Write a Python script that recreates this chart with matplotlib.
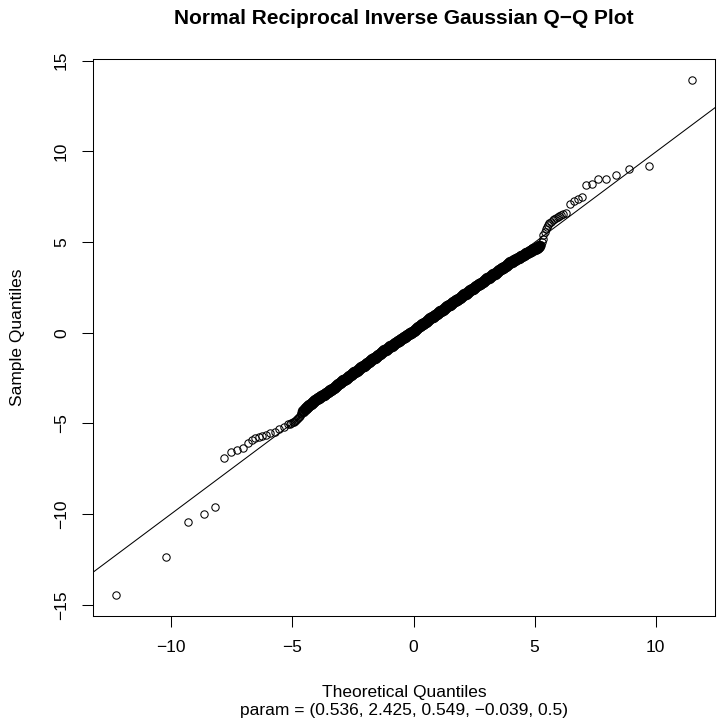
import matplotlib
matplotlib.use('Agg')
import matplotlib.pyplot as plt
import numpy as np

plt.rcParams['font.family'] = ['Liberation Sans', 'DejaVu Sans']

# lower tail, read point by point
low_theo = [-12.27, -10.23, -9.30, -8.67, -8.20, -7.84, -7.52, -7.27, -7.02, -6.82,
            -6.65, -6.53, -6.39, -6.24, -6.07, -5.91, -5.73, -5.55, -5.36, -5.17,
            -5.10, -5.04, -4.98, -4.93, -4.88, -4.84, -4.80, -4.76, -4.72, -4.69,
            -4.66, -4.63, -4.60]
low_samp = [-14.45, -12.36, -10.43, -9.97, -9.62, -6.92, -6.60, -6.47, -6.38, -6.10,
            -5.92, -5.83, -5.73, -5.70, -5.64, -5.55, -5.46, -5.33, -5.18, -5.05,
            -5.01, -4.98, -4.94, -4.90, -4.86, -4.82, -4.78, -4.72, -4.65, -4.58,
            -4.50, -4.42, -4.36]

# dense central band (points overlap into a solid stroke)
mid_theo = [
    -4.55, -4.50, -4.45, -4.40, -4.35, -4.30, -4.25, -4.20, -4.15, -4.10, -4.05, -4.00,
    -3.95, -3.90, -3.85, -3.80, -3.75, -3.70, -3.65, -3.60, -3.55, -3.50,
    -3.45, -3.40, -3.35, -3.30, -3.25, -3.20, -3.15, -3.10, -3.05, -3.00,
    -2.95, -2.90, -2.85, -2.80, -2.75, -2.70, -2.65, -2.60,
    -2.55, -2.50, -2.45, -2.40, -2.35, -2.30, -2.25, -2.20, -2.15, -2.10, -2.05, -2.00,
    -1.95, -1.90, -1.85, -1.80, -1.75, -1.70, -1.65, -1.60, -1.55, -1.50,
    -1.45, -1.40, -1.35, -1.30, -1.25, -1.20, -1.15, -1.10, -1.05, -1.00,
    -0.95, -0.90, -0.85, -0.80, -0.75, -0.70, -0.65, -0.60, -0.55, -0.50,
    -0.45, -0.40, -0.35, -0.30, -0.25, -0.20, -0.15, -0.10, -0.05, 0.00,
    0.05, 0.10, 0.15, 0.20, 0.25, 0.30, 0.35, 0.40, 0.45, 0.50,
    0.55, 0.60, 0.65, 0.70, 0.75, 0.80, 0.85, 0.90, 0.95, 1.00,
    1.05, 1.10, 1.15, 1.20, 1.25, 1.30, 1.35, 1.40, 1.45, 1.50,
    1.55, 1.60, 1.65, 1.70, 1.75, 1.80, 1.85, 1.90, 1.95, 2.00,
    2.05, 2.10, 2.15, 2.20, 2.25, 2.30, 2.35, 2.40, 2.45, 2.50,
    2.55, 2.60, 2.65, 2.70, 2.75, 2.80, 2.85, 2.90, 2.95, 3.00,
    3.05, 3.10, 3.15, 3.20, 3.25, 3.30, 3.35, 3.40, 3.45, 3.50,
    3.55, 3.60, 3.65, 3.70, 3.75, 3.80, 3.85, 3.90, 3.95, 4.00,
    4.05, 4.10, 4.15, 4.20, 4.25, 4.30, 4.35, 4.40, 4.45, 4.50,
    4.55, 4.60, 4.65, 4.70, 4.75, 4.80, 4.85, 4.90, 4.95, 5.00,
    5.05, 5.10, 5.15, 5.20]
mid_samp = [
    -4.30, -4.22, -4.16, -4.10, -4.04, -3.98, -3.93, -3.88, -3.83, -3.77, -3.72, -3.66,
    -3.62, -3.58, -3.54, -3.50, -3.45, -3.41, -3.36, -3.31, -3.27, -3.22,
    -3.18, -3.13, -3.09, -3.04, -2.99, -2.93, -2.88, -2.83, -2.77, -2.72,
    -2.67, -2.63, -2.58, -2.53, -2.48, -2.42, -2.37, -2.33,
    -2.28, -2.24, -2.19, -2.15, -2.10, -2.06, -2.01, -1.96, -1.91, -1.86, -1.81, -1.76,
    -1.71, -1.66, -1.61, -1.57, -1.52, -1.47, -1.42, -1.37, -1.32, -1.27,
    -1.22, -1.18, -1.13, -1.08, -1.03, -0.98, -0.94, -0.89, -0.85, -0.80,
    -0.75, -0.71, -0.66, -0.62, -0.57, -0.53, -0.48, -0.44, -0.39, -0.35,
    -0.30, -0.26, -0.21, -0.17, -0.12, -0.08, -0.03, 0.01, 0.06, 0.12,
    0.17, 0.22, 0.27, 0.31, 0.36, 0.41, 0.46, 0.50, 0.55, 0.60,
    0.65, 0.70, 0.75, 0.79, 0.84, 0.89, 0.94, 0.98, 1.03, 1.08,
    1.13, 1.17, 1.22, 1.27, 1.32, 1.36, 1.41, 1.46, 1.50, 1.55,
    1.60, 1.64, 1.69, 1.74, 1.78, 1.83, 1.88, 1.92, 1.97, 2.02,
    2.07, 2.11, 2.16, 2.20, 2.25, 2.30, 2.34, 2.39, 2.43, 2.48,
    2.53, 2.57, 2.62, 2.67, 2.71, 2.76, 2.81, 2.85, 2.90, 2.95,
    2.99, 3.04, 3.08, 3.13, 3.17, 3.22, 3.26, 3.31, 3.35, 3.40,
    3.45, 3.50, 3.54, 3.59, 3.64, 3.69, 3.73, 3.78, 3.83, 3.88,
    3.92, 3.96, 3.99, 4.03, 4.07, 4.11, 4.14, 4.18, 4.21, 4.25,
    4.29, 4.33, 4.38, 4.42, 4.46, 4.50, 4.53, 4.56, 4.59, 4.62,
    4.66, 4.69, 4.75, 4.80]

# upper tail, read point by point
high_theo = [5.25, 5.29, 5.33, 5.36, 5.41, 5.46, 5.50, 5.55, 5.60, 5.67,
             5.74, 5.81, 5.88, 5.95, 6.02, 6.09, 6.16, 6.29, 6.46, 6.62,
             6.78, 6.94, 7.12, 7.38, 7.63, 7.95, 8.35, 8.91, 9.74, 11.51]
high_samp = [4.82, 5.00, 5.18, 5.37, 5.55, 5.70, 5.82, 5.93, 6.04, 6.12,
             6.19, 6.26, 6.34, 6.39, 6.43, 6.48, 6.52, 6.61, 7.11, 7.25,
             7.38, 7.47, 8.14, 8.21, 8.45, 8.49, 8.71, 9.04, 9.18, 13.95]

# reference line (through the quartiles)
line_intercept = -0.01
line_slope = 0.997

x_ticks = [-10, -5, 0, 5, 10]
y_ticks = [-15, -10, -5, 0, 5, 10, 15]

tail_theo = np.array(low_theo + high_theo)
tail_samp = np.array(low_samp + high_samp)
theo = np.concatenate([tail_theo, mid_theo])
samp = np.concatenate([tail_samp, mid_samp])

W, H = 723, 728
fig = plt.figure(figsize=(W / 100, H / 100), dpi=100)
left, right, top, bottom = 93.3, 715.3, 59.0, 615.5
ax = fig.add_axes([left / W, (H - bottom) / H, (right - left) / W, (bottom - top) / H])

ax.plot(tail_theo, tail_samp, 'o', mfc='none', mec='black', ms=5.3, mew=0.75)
# the central points are so dense that they merge into a thick black band
ax.plot(mid_theo, mid_samp, 'o', mfc='none', mec='black', ms=6.3, mew=2.0)
ax.axline((0, line_intercept), slope=line_slope, color='black', lw=0.75)

# R-style 4% padding
dx = 0.04 * (theo.max() - theo.min())
dy = 0.04 * (samp.max() - samp.min())
ax.set_xlim(theo.min() - dx, theo.max() + dx)
ax.set_ylim(samp.min() - dy, samp.max() + dy)

ax.set_xticks(x_ticks)
ax.set_yticks(y_ticks)
ax.tick_params(direction='out', length=8, width=0.75, labelsize=12.5, pad=9.5, colors='black')
ax.tick_params(axis='y', labelrotation=90)
for lab in ax.get_yticklabels():
    lab.set_va('center')
for s in ax.spines.values():
    s.set_linewidth(0.75)

fig.text(0.5 * (left + right) / W, 1 - 18 / H, 'Normal Reciprocal Inverse Gaussian Q\u2212Q Plot',
         ha='center', va='center', fontsize=15, fontweight='bold')
fig.text(0.5 * (left + right) / W, 1 - 692 / H, 'Theoretical Quantiles',
         ha='center', va='center', fontsize=12.5)
fig.text(0.5 * (left + right) / W, 1 - 711 / H,
         'param = (0.536, 2.425, 0.549, \u22120.039, 0.5)',
         ha='center', va='center', fontsize=12.5)
fig.text(18 / W, 1 - 0.5 * (top + bottom) / H, 'Sample Quantiles',
         ha='center', va='center', rotation=90, fontsize=12.5)

fig.savefig('out.png', dpi=100)
